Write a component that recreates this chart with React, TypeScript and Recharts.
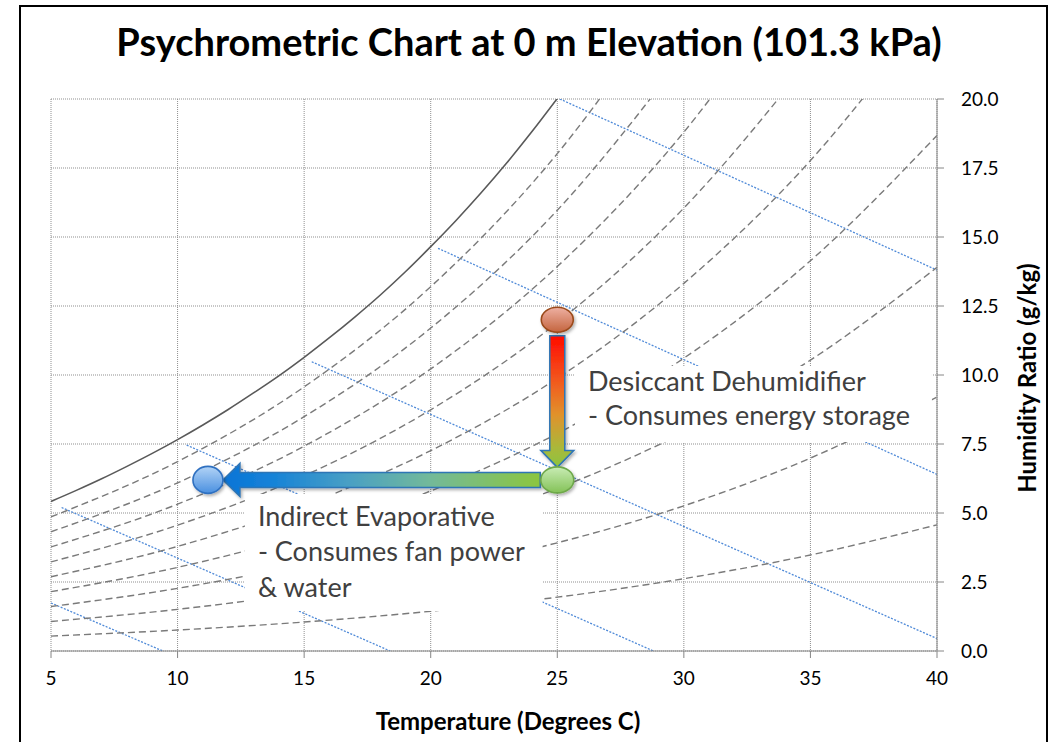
import React from "react";
import {
  ComposedChart,
  Line,
  Scatter,
  XAxis,
  YAxis,
  CartesianGrid,
  ReferenceArea,
  ReferenceLine,
} from "recharts";

const WIDTH = 1056;
const HEIGHT = 742;
const FONT = "Lato, 'Open Sans', sans-serif";

// axis ticks
const TEMP_TICKS = [5, 10, 15, 20, 25, 30, 35, 40];
const RATIO_TICKS = [0, 2.5, 5, 7.5, 10, 12.5, 15, 17.5, 20];

// saturation curve: dry-bulb (°C) vs humidity ratio (g/kg)
const SAT_TEMPS = [5, 6, 7, 8, 9, 10, 11, 12, 13, 14, 15, 16, 17, 18, 19, 20, 21, 22, 23, 24, 25];
const SAT_RATIO = [
  5.42, 5.82, 6.24, 6.69, 7.16, 7.66, 8.19, 8.75, 9.35, 9.97, 10.64, 11.35, 12.1, 12.89, 13.74,
  14.65, 15.6, 16.61, 17.68, 18.82, 20.02,
];

// relative humidity curves, 10% .. 90%
const RH_TEMPS = [5, 10, 15, 20, 25, 30, 35, 40];
const RH_10 = [0.54, 0.76, 1.05, 1.44, 1.95, 2.62, 3.48, 4.57];
const RH_20 = [1.07, 1.51, 2.1, 2.89, 3.92, 5.26, 6.99, 9.2];
const RH_30 = [1.61, 2.27, 3.16, 4.34, 5.89, 7.92, 10.54, 13.9];
const RH_40 = [2.15, 3.03, 4.22, 5.8, 7.88, 10.61, 14.14, 18.68];
const RH_50 = [2.69, 3.79, 5.28, 7.26, 9.88, 13.32, 17.77, 23.52];
const RH_60 = [3.23, 4.56, 6.35, 8.74, 11.9, 16.05, 21.45];
const RH_70 = [3.77, 5.32, 7.42, 10.22, 13.93, 18.8, 25.17];
const RH_80 = [4.32, 6.09, 8.49, 11.7, 15.97, 21.58];
const RH_90 = [4.86, 6.86, 9.57, 13.2, 18.02, 24.38];

// wet-bulb lines for 0, 5, 10, 15, 20, 25 °C (start and end of each segment)
const WB_FROM_T = [5, 5.42, 10.36, 15.3, 20.29, 25.1];
const WB_FROM_W = [1.74, 5.2, 7.46, 10.48, 14.59, 20];
const WB_TO_T = [9.42, 18.4, 28.8, 40, 40, 40];
const WB_TO_W = [0, 0, 0, 0.45, 6.4, 13.8];

// process states
const HOT_HUMID = [{ t: 25, w: 12.0 }];
const DRIED = [{ t: 25, w: 6.2 }];
const COOLED = [{ t: 11.2, w: 6.2 }];

const satData = SAT_TEMPS.map((t, i) => ({ t, w: SAT_RATIO[i] }));
const rhData = [RH_10, RH_20, RH_30, RH_40, RH_50, RH_60, RH_70, RH_80, RH_90].map((vals) =>
  vals.map((w, i) => ({ t: RH_TEMPS[i], w }))
);
const wbData = WB_FROM_T.map((t, i) => [
  { t, w: WB_FROM_W[i] },
  { t: WB_TO_T[i], w: WB_TO_W[i] },
]);

type Stop = [number, string];

function shadowDef(id: string) {
  return (
    <filter id={id} x="-30%" y="-30%" width="160%" height="160%">
      <feDropShadow dx="1.5" dy="2" stdDeviation="1.5" floodColor="#000" floodOpacity="0.3" />
    </filter>
  );
}

// block arrow between two chart points, trimmed so it sits between the ellipses
function makeArrow(id: string, stops: Stop[], trimStart: number, trimEnd: number) {
  return (p: any) => {
    const { x1, y1, x2, y2 } = p;
    const dx = x2 - x1;
    const dy = y2 - y1;
    const len = Math.hypot(dx, dy) || 1;
    const ux = dx / len;
    const uy = dy / len;
    const nx = -uy;
    const ny = ux;
    const sx = x1 + ux * trimStart;
    const sy = y1 + uy * trimStart;
    const ex = x2 - ux * trimEnd;
    const ey = y2 - uy * trimEnd;
    const bw = 7.5;
    const hw = 16.5;
    const hl = 17;
    const bx = ex - ux * hl;
    const by = ey - uy * hl;
    const pts = [
      [sx + nx * bw, sy + ny * bw],
      [bx + nx * bw, by + ny * bw],
      [bx + nx * hw, by + ny * hw],
      [ex, ey],
      [bx - nx * hw, by - ny * hw],
      [bx - nx * bw, by - ny * bw],
      [sx - nx * bw, sy - ny * bw],
    ];
    return (
      <g>
        <defs>
          <linearGradient id={id} gradientUnits="userSpaceOnUse" x1={sx} y1={sy} x2={ex} y2={ey}>
            {stops.map(([o, c]) => (
              <stop key={o} offset={o} stopColor={c} />
            ))}
          </linearGradient>
          {shadowDef(id + "-sh")}
        </defs>
        <polygon
          points={pts.map((q) => q.join(",")).join(" ")}
          fill={`url(#${id})`}
          stroke="#2f75b5"
          strokeWidth={1.5}
          filter={`url(#${id}-sh)`}
        />
      </g>
    );
  };
}

function makeEllipse(id: string, rx: number, ry: number, top: string, bottom: string, edge: string) {
  return (p: any) => (
    <g>
      <defs>
        <linearGradient id={id} x1="0" y1="0" x2="0" y2="1">
          <stop offset="0%" stopColor={top} />
          <stop offset="100%" stopColor={bottom} />
        </linearGradient>
        {shadowDef(id + "-sh")}
      </defs>
      <ellipse
        cx={p.cx}
        cy={p.cy}
        rx={rx}
        ry={ry}
        fill={`url(#${id})`}
        stroke={edge}
        strokeWidth={1.6}
        filter={`url(#${id}-sh)`}
      />
    </g>
  );
}

function boxText(lines: string[], dx: number, firstBaseline: number, lineGap: number) {
  return (p: any) => {
    const vb = p.viewBox || {};
    return (
      <text fontFamily={FONT} fontSize={27} fill="#404040">
        {lines.map((s, i) => (
          <tspan key={i} x={vb.x + dx} y={vb.y + firstBaseline + i * lineGap}>
            {s}
          </tspan>
        ))}
      </text>
    );
  };
}

const verticalArrow = makeArrow(
  "dehumArrow",
  [
    [0, "#ff0a00"],
    [0.35, "#f25a1e"],
    [0.6, "#e0922c"],
    [0.85, "#aab83a"],
    [1, "#8cc43f"],
  ],
  16,
  12.5
);

const horizontalArrow = makeArrow(
  "evapArrow",
  [
    [0, "#8cc63f"],
    [0.35, "#72b99a"],
    [0.6, "#4aa0c4"],
    [0.85, "#1582d8"],
    [1, "#0a74d6"],
  ],
  17,
  15
);

export default function App() {
  return (
    <div
      style={{
        position: "absolute",
        left: 0,
        top: 0,
        width: WIDTH,
        height: HEIGHT,
        overflow: "hidden",
        background: "#fff",
        fontFamily: FONT,
      }}
    >
      <div
        style={{
          position: "absolute",
          left: 19,
          top: 5,
          width: 1029,
          height: 800,
          border: "2px solid #000",
          boxSizing: "border-box",
        }}
      />
      <div style={{ position: "absolute", left: 0, top: 0 }}>
        <ComposedChart
          width={WIDTH}
          height={HEIGHT}
          margin={{ top: 99, right: 59, bottom: 61, left: 51 }}
        >
          <CartesianGrid stroke="#8f8f8f" strokeDasharray="1 1" />
          <XAxis
            dataKey="t"
            type="number"
            domain={[5, 40]}
            ticks={TEMP_TICKS}
            interval={0}
            allowDataOverflow
            height={30}
            stroke="#868686"
            tickSize={7}
            tickMargin={14}
            tick={{ fill: "#000", fontSize: 19, fontFamily: FONT }}
          />
          <YAxis
            dataKey="w"
            type="number"
            orientation="right"
            domain={[0, 20]}
            ticks={RATIO_TICKS}
            interval={0}
            allowDataOverflow
            width={60}
            stroke="#868686"
            tickSize={7}
            tickMargin={17}
            tickFormatter={(v: number) => v.toFixed(1)}
            tick={{ fill: "#000", fontSize: 19, fontFamily: FONT }}
          />
          {wbData.map((d, i) => (
            <Line
              key={"wb" + i}
              data={d}
              dataKey="w"
              type="linear"
              stroke="#4f8ad8"
              strokeWidth={1.3}
              strokeDasharray="2 1.5"
              dot={false}
              activeDot={false}
              isAnimationActive={false}
            />
          ))}
          {rhData.map((d, i) => (
            <Line
              key={"rh" + i}
              data={d}
              dataKey="w"
              type="monotone"
              stroke="#7a7a7a"
              strokeWidth={1.4}
              strokeDasharray="7 4"
              dot={false}
              activeDot={false}
              isAnimationActive={false}
            />
          ))}
          <Line
            data={satData}
            dataKey="w"
            type="monotone"
            stroke="#595959"
            strokeWidth={1.6}
            dot={false}
            activeDot={false}
            isAnimationActive={false}
          />
          <ReferenceArea
            x1={25.7}
            x2={39.8}
            y1={7.57}
            y2={10.33}
            fill="#fff"
            fillOpacity={1}
            stroke="none"
            zIndex={450}
            label={boxText(["Desiccant Dehumidifier", "- Consumes energy storage"], 13, 25, 34)}
          />
          <ReferenceArea
            x1={12.66}
            x2={24.42}
            y1={1.45}
            y2={5.69}
            fill="#fff"
            fillOpacity={1}
            stroke="none"
            zIndex={450}
            label={boxText(["Indirect Evaporative", "- Consumes fan power", "& water"], 13, 32, 35.5)}
          />
          <ReferenceLine
            segment={[
              { x: HOT_HUMID[0].t, y: HOT_HUMID[0].w },
              { x: DRIED[0].t, y: DRIED[0].w },
            ]}
            shape={verticalArrow}
            zIndex={700}
          />
          <ReferenceLine
            segment={[
              { x: DRIED[0].t, y: DRIED[0].w },
              { x: COOLED[0].t, y: COOLED[0].w },
            ]}
            shape={horizontalArrow}
            zIndex={700}
          />
          <Scatter
            data={HOT_HUMID}
            dataKey="w"
            isAnimationActive={false}
            zIndex={800}
            shape={makeEllipse("hotDot", 16, 12.5, "#eeb0a2", "#c4643e", "#9a4a1a")}
          />
          <Scatter
            data={DRIED}
            dataKey="w"
            isAnimationActive={false}
            zIndex={800}
            shape={makeEllipse("driedDot", 16.5, 13, "#c8ecb4", "#84c258", "#6ea84a")}
          />
          <Scatter
            data={COOLED}
            dataKey="w"
            isAnimationActive={false}
            zIndex={800}
            shape={makeEllipse("cooledDot", 15, 13.5, "#b2d3f6", "#4a90e0", "#2f70c0")}
          />
        </ComposedChart>
      </div>
      <svg
        width={WIDTH}
        height={HEIGHT}
        style={{ position: "absolute", left: 0, top: 0, pointerEvents: "none" }}
      >
        <text
          x={529}
          y={56}
          textAnchor="middle"
          fontFamily={FONT}
          fontWeight="bold"
          fontSize={38}
          fill="#000"
        >
          Psychrometric Chart at 0 m Elevation (101.3 kPa)
        </text>
        <text
          x={508}
          y={730}
          textAnchor="middle"
          fontFamily={FONT}
          fontWeight="bold"
          fontSize={24}
          fill="#000"
        >
          Temperature (Degrees C)
        </text>
        <text
          transform="translate(1036 378) rotate(-90)"
          textAnchor="middle"
          fontFamily={FONT}
          fontWeight="bold"
          fontSize={24}
          fill="#000"
        >
          Humidity Ratio (g/kg)
        </text>
      </svg>
    </div>
  );
}
